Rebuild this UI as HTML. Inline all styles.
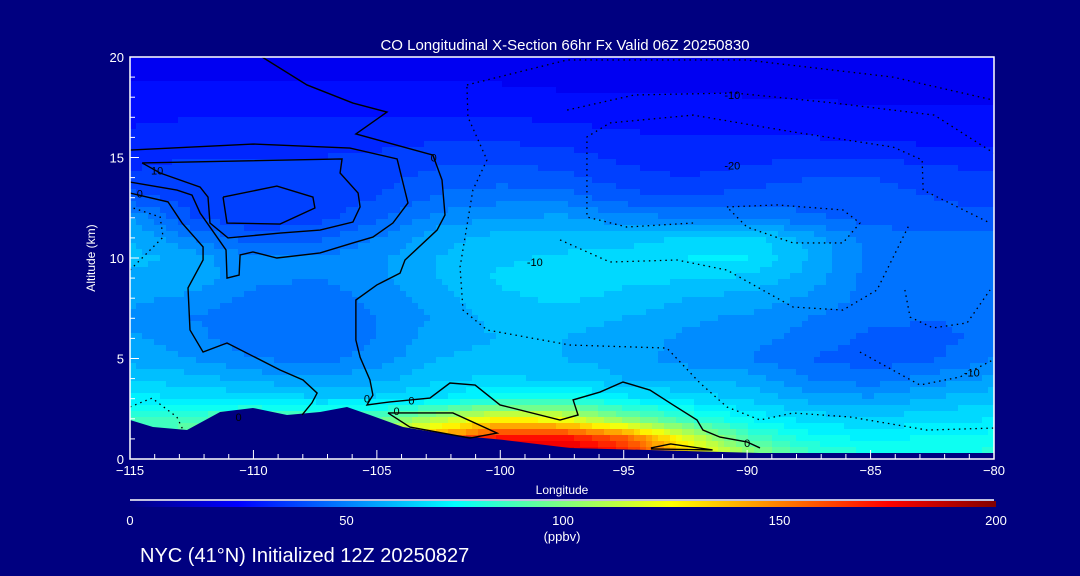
<!DOCTYPE html>
<html><head><meta charset="utf-8">
<style>
html,body{margin:0;padding:0;background:#000080;}
svg{display:block;}
text{font-family:"Liberation Sans",sans-serif;fill:#fff;}
</style></head>
<body>
<svg id="chart" width="1080" height="576" viewBox="0 0 1080 576" xmlns="http://www.w3.org/2000/svg">
<rect x="0" y="0" width="1080" height="576" fill="#000080"/>
<text x="565" y="50" font-size="15" text-anchor="middle">CO Longitudinal X-Section 66hr  Fx Valid 06Z 20250830</text>
<defs>
<clipPath id="plotclip"><rect x="130" y="57" width="864" height="402"/></clipPath>
<linearGradient id="jetgrad" x1="0" x2="1" y1="0" y2="0">
<stop offset="0" stop-color="#000080"/><stop offset="0.125" stop-color="#0000ff"/><stop offset="0.375" stop-color="#00ffff"/><stop offset="0.625" stop-color="#ffff00"/><stop offset="0.875" stop-color="#ff0000"/><stop offset="1" stop-color="#800000"/>
</linearGradient>
</defs>
<g id="field" clip-path="url(#plotclip)"></g>
<g id="terrain" clip-path="url(#plotclip)"></g>
<g id="contours" clip-path="url(#plotclip)"></g>
<rect x="130" y="57" width="864" height="402" fill="none" stroke="#fff" stroke-width="1.5"/>
<g id="axes"></g>
<text x="95" y="258" font-size="12" text-anchor="middle" transform="rotate(-90 95 258)">Altitude (km)</text>
<text x="562" y="494" font-size="12" text-anchor="middle">Longitude</text>
<line x1="130" y1="500" x2="994" y2="500" stroke="#fff" stroke-width="1.5"/>
<rect x="130" y="501" width="866" height="6" fill="url(#jetgrad)"/>
<g id="cbticks"></g>
<text x="562" y="541" font-size="13" text-anchor="middle">(ppbv)</text>
<text x="140" y="562" font-size="20">NYC (41°N) Initialized 12Z 20250827</text>
</svg>
<script>
const lonNodes=[-115,-112.5,-110,-107.5,-105,-102.5,-100,-97.5,-95,-92.5,-90,-87.5,-85,-82.5,-80];
const altNodes=[20,19,18,17,16,15,14,13,12,11,10,9,8,7,6,5,4,3,2,1,0];
const coValues=[
[22,22,22,22,22,22,22,22,22,22,22,22,22,22,22],
[24,24,24,24,24,24,24,23,23,23,23,23,23,22,22],
[27,27,27,27,27,27,27,26,26,26,25,25,24,24,24],
[29,30,30,30,30,30,30,29,28,28,28,27,26,26,26],
[31,32,33,33,33,34,34,33,31,30,30,30,29,28,28],
[33,35,35,35,36,38,38,37,34,32,33,35,35,33,32],
[36,38,37,37,38,42,43,42,37,35,38,40,40,38,36],
[42,38,36,37,40,46,48,48,42,40,42,42,42,40,38],
[55,40,36,38,44,52,55,56,52,50,50,46,43,42,42],
[60,50,42,44,50,58,62,62,62,66,68,58,48,46,46],
[62,58,50,50,54,60,64,66,68,70,70,60,48,47,47],
[58,58,52,50,54,60,66,68,66,66,64,58,48,47,47],
[56,54,48,46,52,58,64,66,64,60,58,54,48,47,47],
[54,50,46,45,50,56,62,62,60,56,54,50,46,45,46],
[56,52,46,46,50,58,60,60,58,54,52,48,44,44,46],
[58,55,50,48,52,60,62,60,58,52,50,45,42,44,50],
[64,62,58,56,58,64,66,64,60,60,58,50,47,52,56],
[72,70,68,66,66,70,78,80,72,68,64,58,56,60,64],
[85,88,95,90,92,110,125,120,100,85,75,68,66,68,70],
[95,95,100,100,115,150,175,175,160,120,90,78,74,76,78],
[100,100,105,105,120,160,185,190,175,140,110,90,82,82,82]];
const terrainLon=[-115,-114.07,-112.69,-111.35,-110.02,-108.64,-107.3,-106.21,-105.28,-103.94,-101.92,-99.89,-97.18,-89.5,-80];
const terrainAlt=[1.94,1.59,1.44,2.34,2.54,2.19,2.34,2.59,2.19,1.59,1.19,0.95,0.55,0.3,0.3];
const zeroContourA=[[-109.65,20],[-107.83,18.61],[-105.97,17.71],[-104.59,17.26],[-105.85,16.17],[-102.73,15.12],[-102.36,13.88],[-102.24,12.14],[-102.56,11.39],[-103.86,9.9],[-104.06,9.25],[-105.0,8.66],[-105.85,7.91],[-105.85,5.92],[-105.68,5.07],[-105.28,3.93],[-105.16,3.18],[-105.4,2.69],[-104.47,2.84],[-102.85,3.03],[-102.04,3.78],[-101.02,3.68],[-100.01,2.69],[-97.58,1.94],[-96.85,2.19],[-97.05,2.94],[-95.96,3.33],[-95.03,3.83],[-93.94,3.43],[-93.0,2.69],[-92.03,1.94],[-91.79,1.44],[-91.1,1.09],[-90.01,0.85],[-89.48,0.55]];
const zeroContourB=[[-115,15.37],[-110.02,15.67],[-106.09,15.47],[-104.18,14.93],[-103.74,12.74],[-104.35,11.74],[-105.16,11.04],[-105.97,10.75],[-107.3,10.25],[-109.05,10.0],[-110.02,10.3],[-110.54,10.15],[-110.58,9.15],[-111.07,9.0],[-111.11,10.4],[-111.76,11.54],[-112.16,12.24],[-112.49,13.13],[-113.1,13.38],[-115,13.78]];
const tenContourC=[[-114.51,14.73],[-106.41,14.93],[-106.49,14.23],[-105.76,13.23],[-105.68,12.54],[-105.97,11.79],[-107.3,11.39],[-108.92,11.24],[-111.03,11.0],[-111.76,11.74],[-111.84,13.03],[-112.16,13.53],[-113.78,14.23],[-114.51,14.73]];
const innerContourD=[[-111.23,13.03],[-109.05,13.58],[-107.59,13.03],[-107.51,12.49],[-108.92,11.69],[-111.07,11.74],[-111.23,13.03]];
const zeroContourE=[[-115,13.23],[-113.46,12.79],[-112.89,11.74],[-112.04,10.55],[-112.04,9.9],[-112.65,8.51],[-112.57,6.42],[-112.04,5.32],[-111.07,5.77],[-108.92,4.43],[-107.99,3.93],[-107.42,3.28],[-107.63,2.79],[-108.03,2.19]];
const plumeContourF=[[-104.55,2.29],[-101.92,2.29],[-100.13,1.29],[-101.23,1.04],[-103.66,1.59],[-104.55,2.29]];
const smallContourG=[[-93.9,0.55],[-93.1,0.75],[-91.4,0.45],[-93.9,0.5]];
const negContours=[
[[-101.35,18.61],[-97.3,19.85],[-90.01,19.85],[-84.09,19.0],[-80.04,17.86]],
[[-97.29,17.36],[-94.57,18.11],[-90.52,18.21],[-86.47,17.71],[-82.42,17.11],[-79.75,15.02]],
[[-101.35,18.51],[-101.31,17.01],[-100.54,14.88],[-101.11,13.38],[-101.63,9.55],[-101.51,7.41],[-100.54,6.42],[-97.18,5.67],[-93.25,5.52],[-91.91,3.78],[-90.82,2.59],[-89.48,1.94],[-88.14,2.29],[-85.83,2.09],[-82.71,1.44],[-80,1.54]],
[[-92.19,11.74],[-94.87,11.54],[-96.49,12.04],[-96.49,16.02],[-95.56,16.72],[-92.19,17.11],[-88.14,16.27],[-84.09,15.52],[-82.91,14.88],[-82.87,13.38],[-80.16,11.74]],
[[-90.82,12.54],[-88.79,12.64],[-86.12,12.39],[-85.43,11.74],[-86.12,10.75],[-88.14,10.75],[-90.01,11.54],[-90.82,12.54]],
[[-97.58,10.9],[-95.56,9.8],[-92.84,9.9],[-90.82,9.4],[-88.14,7.56],[-86.12,7.41],[-84.74,8.41],[-83.4,11.74]],
[[-83.61,8.41],[-83.4,7.06],[-82.47,6.52],[-81.09,6.77],[-80.16,8.41]],
[[-85.43,5.32],[-83.0,3.68],[-81.38,4.08],[-80.04,4.93]],
[[-115,9.4],[-113.66,11.04],[-113.78,12.04],[-115,12.54]],
[[-115,2.59],[-114.11,3.03],[-113.1,2.09],[-112.85,1.44]]];
const contourLabels=[["0",-102.7,15.0],["10",-113.9,14.35],["0",-114.6,13.2],["0",-105.4,3.0],["0",-103.6,2.9],["0",-110.6,2.1],["0",-104.2,2.4],["0",-90.0,0.8],["-10",-90.6,18.1],["-20",-90.6,14.6],["-10",-98.6,9.8],["-10",-80.9,4.3]];
const xTickLabels=["−115","−110","−105","−100","−95","−90","−85","−80"];
const xTickVals=[-115,-110,-105,-100,-95,-90,-85,-80];
const yTickVals=[0,5,10,15,20];
const cbTickVals=[0,50,100,150,200];

const NS="http://www.w3.org/2000/svg";
const X0=130,X1=994,Y0=57,Y1=459;
function xs(lon){return X0+(lon+115)/35*(X1-X0);}
function ys(alt){return Y1-alt/20*(Y1-Y0);}
function jet(v){const t=Math.max(0,Math.min(1,v/200));
 const c=k=>Math.round(255*Math.max(0,Math.min(1,1.5-Math.abs(4*t-k))));
 return `rgb(${c(3)},${c(2)},${c(1)})`;}
function sample(lon,alt){
 let i=Math.min(lonNodes.length-2,Math.max(0,Math.floor((lon+115)/2.5)));
 let fi=(lon-lonNodes[i])/2.5; fi=Math.max(0,Math.min(1,fi));
 let r=Math.min(altNodes.length-2,Math.max(0,Math.floor(20-alt)));
 let fr=(altNodes[r]-alt); fr=Math.max(0,Math.min(1,fr));
 const a=coValues[r][i],b=coValues[r][i+1],c=coValues[r+1][i],d=coValues[r+1][i+1];
 return (a*(1-fi)+b*fi)*(1-fr)+(c*(1-fi)+d*fi)*fr;}
const field=document.getElementById('field');
const step=6;
for(let py=Y0;py<Y1;py+=step){
 let run=null;
 for(let px=X0;px<=X1;px+=step){
  let col=null;
  if(px<X1){const lon=-115+(px+step/2-X0)/(X1-X0)*35;const alt=(Y1-(py+step/2))/(Y1-Y0)*20;
   const v=Math.floor(sample(lon,alt)/5)*5+2.5;col=jet(v);}
  if(run&&run.col===col){run.w+=step;continue;}
  if(run){const r=document.createElementNS(NS,'rect');
   r.setAttribute('x',run.x);r.setAttribute('y',py);r.setAttribute('width',run.w+0.6);r.setAttribute('height',step+0.6);r.setAttribute('fill',run.col);
   
   
   field.appendChild(r);}
  run=col?{x:px,w:step,col:col}:null;
 }
}
const terr=document.getElementById('terrain');
let tp=terrainLon.map((l,i)=>xs(l)+','+ys(terrainAlt[i])).join(' ');
tp+=' '+X1+','+Y1+' '+X0+','+Y1;
const tpoly=document.createElementNS(NS,'polygon');
tpoly.setAttribute('points',tp);tpoly.setAttribute('fill','#000080');


terr.appendChild(tpoly);
const cg=document.getElementById('contours');
function addLine(pts,dotted,name){
 const p=document.createElementNS(NS,'polyline');
 p.setAttribute('points',pts.map(q=>xs(q[0])+','+ys(q[1])).join(' '));
 p.setAttribute('fill','none');p.setAttribute('stroke','#000');
 p.setAttribute('stroke-width',dotted?'1.3':'1.4');
 if(dotted){p.setAttribute('stroke-dasharray','1.5 4');}
 
 
 cg.appendChild(p);}
addLine(zeroContourA,false,'contour-zero-a');
addLine(zeroContourB,false,'contour-zero-b');
addLine(tenContourC,false,'contour-ten-c');
addLine(innerContourD,false,'contour-inner-d');
addLine(zeroContourE,false,'contour-zero-e');
addLine(plumeContourF,false,'contour-plume-f');
addLine(smallContourG,false,'contour-small-g');
negContours.forEach(c=>addLine(c,true,'contour-negative'));
contourLabels.forEach(l=>{const t=document.createElementNS(NS,'text');
 t.setAttribute('x',xs(l[1]));t.setAttribute('y',ys(l[2])+4);t.setAttribute('font-size','11');
 t.setAttribute('text-anchor','middle');t.setAttribute('style','fill:#000');t.textContent=l[0];
 
 
 cg.appendChild(t);});
const ax=document.getElementById('axes');
function tick(x1,y1,x2,y2){const l=document.createElementNS(NS,'line');
 l.setAttribute('x1',x1);l.setAttribute('y1',y1);l.setAttribute('x2',x2);l.setAttribute('y2',y2);
 l.setAttribute('stroke','#fff');l.setAttribute('stroke-width','1');
 
 
 ax.appendChild(l);}
for(let lon=-115;lon<=-80;lon++){const x=xs(lon);const L=(lon%5===0)?9:5;tick(x,Y1,x,Y1-L);}
for(let a=0;a<=20;a++){const y=ys(a);const L=(a%5===0)?9:5;tick(X0,y,X0+L,y);}
xTickVals.forEach((v,i)=>{const t=document.createElementNS(NS,'text');
 t.setAttribute('x',xs(v));t.setAttribute('y',475);t.setAttribute('font-size','13');t.setAttribute('text-anchor','middle');
 t.textContent=xTickLabels[i];
 
 
 ax.appendChild(t);});
yTickVals.forEach(v=>{const t=document.createElementNS(NS,'text');
 t.setAttribute('x',124);t.setAttribute('y',ys(v)+5);t.setAttribute('font-size','13');t.setAttribute('text-anchor','end');
 t.textContent=String(v);
 
 
 ax.appendChild(t);});
const cb=document.getElementById('cbticks');
cbTickVals.forEach(v=>{const t=document.createElementNS(NS,'text');
 t.setAttribute('x',130+v/200*866);t.setAttribute('y',525);t.setAttribute('font-size','13');t.setAttribute('text-anchor','middle');
 t.textContent=String(v);
 
 
 cb.appendChild(t);});
</script>
</body></html>
